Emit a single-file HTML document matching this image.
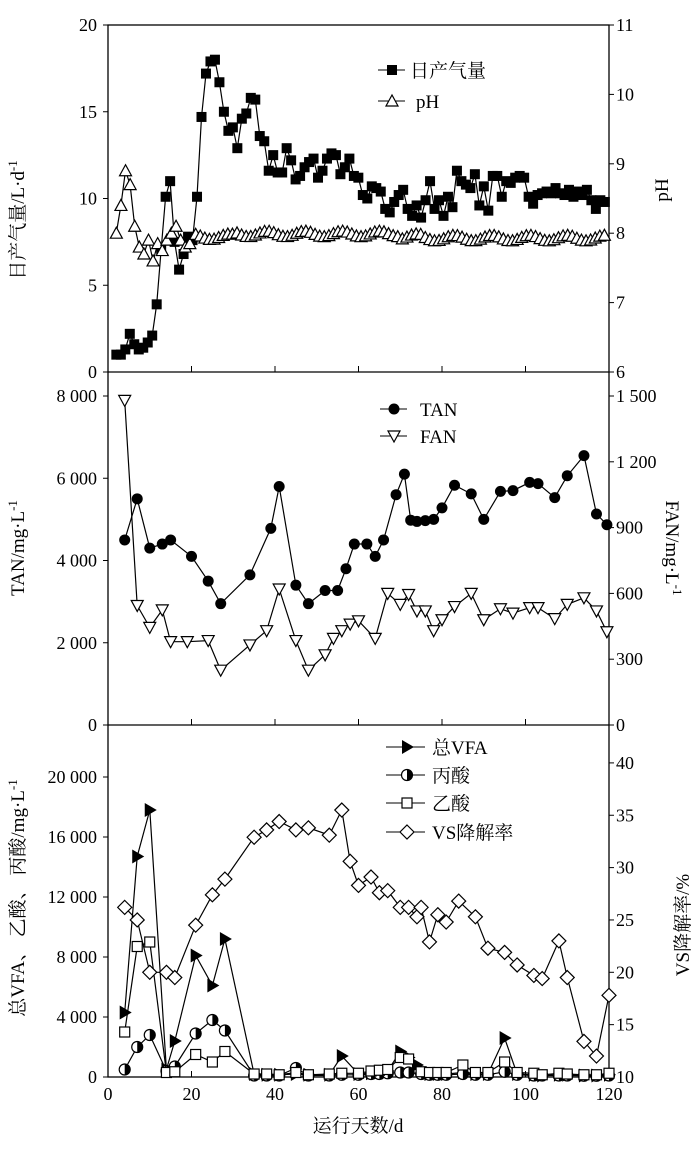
<!DOCTYPE html>
<html><head><meta charset="utf-8"><style>
html,body{margin:0;padding:0;background:#fff}
svg text{font-family:"Liberation Serif","Noto Serif CJK SC","Noto Sans CJK SC",serif;fill:#000}
</style></head><body>
<svg id="s" width="700" height="1154" xmlns="http://www.w3.org/2000/svg"></svg>
<script>
const S=document.getElementById('s');let h='';
const L=108,R=609;const X=d=>L+d*(R-L)/120;
function line(pts,fy){return '<polyline fill="none" stroke="#000" stroke-width="1.2" points="'+pts.map(p=>X(p[0]).toFixed(1)+','+fy(p[1]).toFixed(1)).join(' ')+'"/>';}
function mk(t,x,y){const r=5;
 if(t=='sq')return `<rect x="${x-r}" y="${y-r}" width="${2*r}" height="${2*r}" fill="#000"/>`;
 if(t=='osq')return `<rect x="${x-r}" y="${y-r}" width="${2*r}" height="${2*r}" fill="#fff" stroke="#000" stroke-width="1.2"/>`;
 if(t=='tri')return `<polygon points="${x},${y-6} ${x-6},${y+5} ${x+6},${y+5}" fill="#fff" stroke="#000" stroke-width="1.2"/>`;
 if(t=='itri')return `<polygon points="${x},${y+6} ${x-6},${y-5} ${x+6},${y-5}" fill="#fff" stroke="#000" stroke-width="1.2"/>`;
 if(t=='dot')return `<circle cx="${x}" cy="${y}" r="5.5" fill="#000"/>`;
 if(t=='half')return `<circle cx="${x}" cy="${y}" r="5.5" fill="#fff" stroke="#000" stroke-width="1.2"/><path d="M${x},${y-5.5} A5.5,5.5 0 0 1 ${x},${y+5.5} Z" fill="#000"/>`;
 if(t=='rt')return `<polygon points="${x-5},${y-7} ${x+7},${y} ${x-5},${y+7}" fill="#000"/>`;
 if(t=='dia')return `<polygon points="${x},${y-7} ${x+7},${y} ${x},${y+7} ${x-7},${y}" fill="#fff" stroke="#000" stroke-width="1.2"/>`;}
function series(pts,fy,t){h+=line(pts,fy);pts.forEach(p=>h+=mk(t,X(p[0]),fy(p[1])));}
h+=`<rect x="${L}" y="25" width="${R-L}" height="1052" fill="none" stroke="#000" stroke-width="1.3"/>`;
h+=`<line x1="${L}" y1="372" x2="${R}" y2="372" stroke="#000" stroke-width="1.3"/><line x1="${L}" y1="725" x2="${R}" y2="725" stroke="#000" stroke-width="1.3"/>`;
for(let d=20;d<120;d+=20){[372,725,1077].forEach(y=>h+=`<line x1="${X(d)}" y1="${y}" x2="${X(d)}" y2="${y-6}" stroke="#000"/>`);}
function lt(y,t){h+=`<line x1="${L-5}" y1="${y}" x2="${L}" y2="${y}" stroke="#000"/><text x="97" y="${y+6}" font-size="18" text-anchor="end">${t}</text>`;}
function rt(y,t){h+=`<line x1="${R}" y1="${y}" x2="${R+5}" y2="${y}" stroke="#000"/><text x="616" y="${y+6}" font-size="18">${t}</text>`;}
const y1=v=>372-v*17.35, p1=v=>372-(v-6)*69.4;
[0,5,10,15,20].forEach(v=>lt(y1(v),v));[6,7,8,9,10,11].forEach(v=>rt(p1(v),v));
const gas=[1,1,1.3,2.2,1.6,1.3,1.4,1.7,2.1,3.9,7.1,10.1,11,7.5,5.9,6.8,7.8,7.6,10.1,14.7,17.2,17.9,18,16.7,15,13.9,14.1,12.9,14.6,14.9,15.8,15.7,13.6,13.3,11.6,12.5,11.5,11.5,12.9,12.2,11.1,11.3,11.8,12.1,12.3,11.2,11.6,12.3,12.6,12.5,11.4,11.8,12.3,11.3,11.2,10.2,10,10.7,10.6,10.4,9.4,9.2,9.8,10.2,10.5,9.4,9,9.6,8.9,9.9,11,9.4,9.9,9,10.1,9.5,11.6,11,10.8,10.6,11.4,9.6,10.7,9.3,11.3,11.3,10.1,11,10.9,11.2,11.3,11.2,10.1,9.7,10.2,10.3,10.4,10.3,10.6,10.3,10.2,10.5,10.1,10.4,10.2,10.5,9.9,9.4,9.9,9.8];
const gp=gas.map((v,i)=>[2+i*117/(gas.length-1),v]);series(gp,y1,'sq');
const ph0=[8,8.4,8.9,8.7,8.1,7.8,7.7,7.9,7.6,7.85,7.75,7.9,8,8.1,7.9,7.8,7.85];
const ph=[];for(let i=0;i<ph0.length;i++)ph.push([2+i*1.1,ph0[i]]);
for(let d=21;d<=119;d+=1.1){ph.push([d,7.95+0.04*Math.sin(d*0.7)+(d>30&&d<70?0.04:0)-(d>75?0.02:0)]);}
series(ph,p1,'tri');
h+=`<line x1="378" y1="70" x2="405" y2="70" stroke="#000"/>`+mk('sq',392,70)+`<text x="410" y="77" font-size="19">日产气量</text>`;
h+=`<line x1="378" y1="101" x2="405" y2="101" stroke="#000"/>`+mk('tri',392,101)+`<text x="416" y="108" font-size="19">pH</text>`;
h+=`<text transform="translate(24,220) rotate(-90)" font-size="19" text-anchor="middle">日产气量/L·d<tspan dy="-7" font-size="13">-1</tspan></text>`;
h+=`<text transform="translate(668,190) rotate(-90)" font-size="19" text-anchor="middle">pH</text>`;
const y2=v=>725-v*0.041125, f2=v=>725-v*0.21933;
[[0,'0'],[2000,'2 000'],[4000,'4 000'],[6000,'6 000'],[8000,'8 000']].forEach(a=>lt(y2(a[0]),a[1]));
[[0,'0'],[300,'300'],[600,'600'],[900,'900'],[1200,'1 200'],[1500,'1 500']].forEach(a=>rt(f2(a[0]),a[1]));
series([[4,4500],[7,5500],[10,4300],[13,4400],[15,4500],[20,4100],[24,3500],[27,2950],[34,3650],[39,4780],[41,5800],[45,3400],[48,2950],[52,3270],[55,3270],[57,3800],[59,4400],[62,4400],[64,4100],[66,4500],[69,5600],[71,6100],[72.5,4980],[74,4950],[76,4970],[78,5000],[80,5280],[83,5830],[87,5620],[90,5000],[94,5680],[97,5700],[101,5900],[103,5870],[107,5530],[110,6060],[114,6550],[117,5130],[119.5,4870]],y2,'dot');
series([[4,1480],[7,545],[10,445],[13,525],[15,380],[19,380],[24,385],[27,250],[34,365],[38,430],[41,620],[45,385],[48,250],[52,320],[54,395],[56,430],[58,460],[60,475],[64,395],[67,600],[70,550],[72,595],[74,520],[76,520],[78,430],[80,480],[83,540],[87,600],[90,480],[94,530],[97,510],[101,535],[103,535],[107,485],[110,550],[114,580],[117,520],[119.5,425]],f2,'itri');
h+=`<line x1="380" y1="409" x2="407" y2="409" stroke="#000"/>`+mk('dot',394,409)+`<text x="420" y="416" font-size="19">TAN</text>`;
h+=`<line x1="380" y1="436" x2="407" y2="436" stroke="#000"/>`+mk('itri',394,436)+`<text x="420" y="443" font-size="19">FAN</text>`;
h+=`<text transform="translate(24,548) rotate(-90)" font-size="19" text-anchor="middle">TAN/mg·L<tspan dy="-7" font-size="13">-1</tspan></text>`;
h+=`<text transform="translate(666,548) rotate(90)" font-size="19" text-anchor="middle">FAN/mg·L<tspan dy="-7" font-size="13">-1</tspan></text>`;
const y3=v=>1077-v*0.015, v3=v=>1077-(v-10)*10.47;
[[0,'0'],[4000,'4 000'],[8000,'8 000'],[12000,'12 000'],[16000,'16 000'],[20000,'20 000']].forEach(a=>lt(y3(a[0]),a[1]));
[10,15,20,25,30,35,40].forEach(v=>rt(v3(v),v));
const vfa=[[4,4300],[7,14700],[10,17800],[14,500],[16,2400],[21,8100],[25,6100],[28,9200],[35,200],[38,150],[41,150],[45,200],[48,150],[53,150],[56,1400],[60,200],[63,250],[65,300],[67,400],[70,1700],[72,1300],[74,800],[77,200],[79,200],[81,200],[85,300],[88,200],[91,200],[95,2600],[98,200],[102,150],[104,100],[108,150],[110,150],[114,100],[117,100],[120,150]];
const pro=[[4,500],[7,2000],[10,2800],[14,400],[16,700],[21,2900],[25,3800],[28,3100],[35,100],[38,100],[41,100],[45,600],[48,100],[53,100],[56,150],[60,150],[63,200],[65,200],[67,250],[70,300],[72,300],[75,200],[77,150],[79,150],[81,150],[85,200],[88,150],[91,150],[95,350],[98,150],[102,100],[104,100],[108,100],[110,100],[114,80],[117,80],[120,100]];
const ace=[[4,3000],[7,8700],[10,9000],[14,300],[16,350],[21,1500],[25,1000],[28,1700],[35,200],[38,200],[41,150],[45,300],[48,150],[53,200],[56,250],[60,250],[63,400],[65,450],[67,500],[70,1300],[72,1200],[75,350],[77,300],[79,300],[81,300],[85,800],[88,300],[91,300],[95,1000],[98,300],[102,250],[104,150],[108,250],[110,200],[114,150],[117,150],[120,250]];
series(vfa,y3,'rt');series(pro,y3,'half');series(ace,y3,'osq');
series([[4,26.2],[7,25],[10,20],[14,20],[16,19.5],[21,24.5],[25,27.4],[28,28.9],[35,32.9],[38,33.6],[41,34.4],[45,33.6],[48,33.8],[53,33.1],[56,35.5],[58,30.6],[60,28.3],[63,29.1],[65,27.6],[67,27.8],[70,26.2],[72,26.2],[74,25.3],[75,26.2],[77,22.9],[79,25.5],[81,24.8],[84,26.8],[88,25.3],[91,22.3],[95,21.9],[98,20.7],[102,19.7],[104,19.4],[108,23],[110,19.5],[114,13.4],[117,12],[120,17.8]],v3,'dia');
[['rt','总VFA',747],['half','丙酸',775],['osq','乙酸',803],['dia','VS降解率',832]].forEach(a=>{h+=`<line x1="386" y1="${a[2]}" x2="425" y2="${a[2]}" stroke="#000"/>`+mk(a[0],407,a[2])+`<text x="432" y="${a[2]+7}" font-size="19">${a[1]}</text>`;});
h+=`<text transform="translate(24,898) rotate(-90)" font-size="19" text-anchor="middle">总VFA、 乙酸、 丙酸/mg·L<tspan dy="-7" font-size="13">-1</tspan></text>`;
h+=`<text transform="translate(689,925) rotate(-90)" font-size="19" text-anchor="middle">VS降解率/%</text>`;
[0,20,40,60,80,100,120].forEach(d=>h+=`<text x="${X(d)}" y="1100" font-size="18" text-anchor="middle">${d}</text>`);
h+=`<text x="358" y="1132" font-size="19" text-anchor="middle">运行天数/d</text>`;
S.innerHTML=h;
</script></body></html>
